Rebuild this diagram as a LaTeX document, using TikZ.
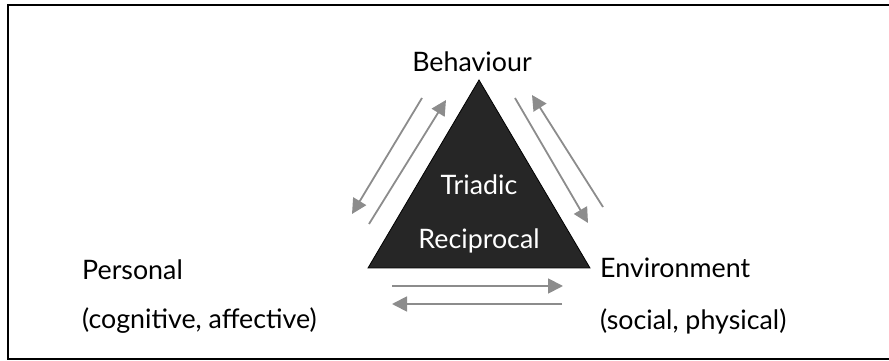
\documentclass[tikz,border=0pt]{standalone}
\usepackage{fontspec}
\setmainfont{Lato}
\usetikzlibrary{arrows.meta}
\begin{document}
\begin{tikzpicture}[x=1pt,y=1pt,
  lbl/.style={inner sep=0pt, font=\fontsize{26.8}{30}\selectfont, text=black},
  inlbl/.style={inner sep=0pt, font=\fontsize{26.8}{30}\selectfont, text=white},
  flow/.style={draw=gray!90, line width=1.8pt, -{Triangle[length=15pt,width=15pt]}}]
  \useasboundingbox (0,0) rectangle (889,361);
  % frame, open on the right
  \draw[line width=1.8pt] (895,356) -- (8,356) -- (8,2) -- (895,2);
  % central triangle
  \filldraw[fill=black!85, draw=black, line width=0.8pt]
    (479,281) -- (368,93) -- (590,93) -- cycle;
  \node[inlbl] (t1) at (479,176) {Triadic};
  \node[inlbl] (t2) at (479,120) {Reciprocal};
  % corner labels
  \node[lbl] (beh) at (472,299) {Behaviour};
  \node[lbl, anchor=west] (per) at (82,91) {Personal};
  \node[lbl, anchor=west] (perx) at (82,40) {(cognitive, affective)};
  \node[lbl, anchor=west] (env) at (600,93) {Environment};
  \node[lbl, anchor=west] (envx) at (600,40) {(social, physical)};
  % reciprocal arrows
  \coordinate (a1) at (422,263); \coordinate (a2) at (352,147);
  \coordinate (b1) at (369,137); \coordinate (b2) at (446,261);
  \coordinate (c1) at (515,263); \coordinate (c2) at (588,138);
  \coordinate (d1) at (603,154); \coordinate (d2) at (532,266);
  \coordinate (e1) at (392,75);  \coordinate (e2) at (563,75);
  \coordinate (f1) at (562,57);  \coordinate (f2) at (392,57);
  \draw[flow] (a1) -- (a2);
  \draw[flow] (b1) -- (b2);
  \draw[flow] (c1) -- (c2);
  \draw[flow] (d1) -- (d2);
  \draw[flow] (e1) -- (e2);
  \draw[flow] (f1) -- (f2);
\end{tikzpicture}
\end{document}
